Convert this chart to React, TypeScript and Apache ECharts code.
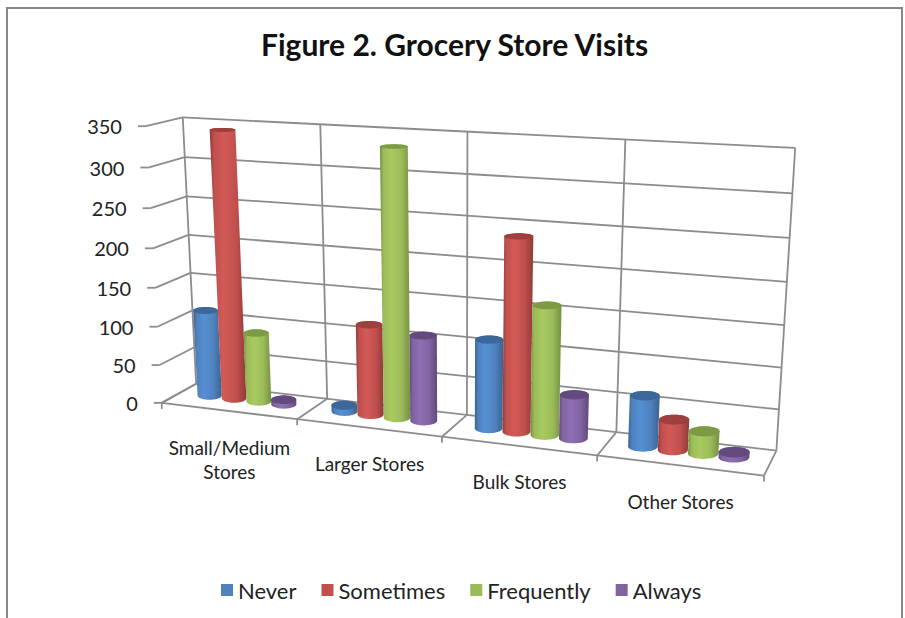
import React, { useEffect, useRef } from "react";
import * as echarts from "echarts";

const categories = ["Small/Medium\nStores", "Larger Stores", "Bulk Stores", "Other Stores"];
const yTicks = [0, 50, 100, 150, 200, 250, 300, 350];
const never = [113, 8, 111, 62];
const sometimes = [343, 115, 238, 37];
const frequently = [90, 334, 159, 27];
const always = [6, 108, 54, 6];
const seriesNames = ["Never", "Sometimes", "Frequently", "Always"];
const seriesValues = [never, sometimes, frequently, always];

const palette = [
  { base: "#4F81BD", dark: "#3A6290", light: "#5590D2", cap: "#3B6899", rim: "#4C86C9" },
  { base: "#C0504D", dark: "#8F3A38", light: "#D25A57", cap: "#9E3F3D", rim: "#CE5855" },
  { base: "#9BBB59", dark: "#749043", light: "#A8CB60", cap: "#7D9A44", rim: "#A4C85C" },
  { base: "#8064A2", dark: "#5F4A7A", light: "#8E6FB3", cap: "#64497F", rim: "#8A6CB0" },
];

// Calibration of the drawn 3D box: (x, y, z) -> page pixels. z=0 back wall, z=1 front.
const calib: number[][] = [
  [0, 1, 0, 183, 117], [1, 1, 0, 795, 147], [0, 0, 0, 196, 384], [1, 0, 0, 776, 451],
  [0, 1, 1, 146, 126], [0, 0, 1, 162, 402], [1, 0, 1, 764, 475],
  [0.25, 1, 0, 320, 125], [0.25, 0, 0, 327, 398], [0.25, 0, 1, 297, 420],
  [0.5, 1, 0, 467, 132], [0.5, 0, 0, 467, 415], [0.5, 0, 1, 442, 438],
  [0.75, 1, 0, 626, 140], [0.75, 0, 0, 617, 432], [0.75, 0, 1, 597, 455],
];

function solveCamera(): number[] {
  const n = 11;
  const A = Array.from({ length: n }, () => new Array(n + 1).fill(0));
  const add = (r: number[], b: number) => {
    for (let i = 0; i < n; i++) {
      for (let j = 0; j < n; j++) A[i][j] += r[i] * r[j];
      A[i][n] += r[i] * b;
    }
  };
  for (const [X, Y, Z, u, v] of calib) {
    add([X, Y, Z, 1, 0, 0, 0, 0, -u * X, -u * Y, -u * Z], u);
    add([0, 0, 0, 0, X, Y, Z, 1, -v * X, -v * Y, -v * Z], v);
  }
  for (let c = 0; c < n; c++) {
    let p = c;
    for (let r = c + 1; r < n; r++) if (Math.abs(A[r][c]) > Math.abs(A[p][c])) p = r;
    [A[c], A[p]] = [A[p], A[c]];
    for (let r = 0; r < n; r++) {
      if (r === c) continue;
      const f = A[r][c] / A[c][c];
      for (let k = c; k <= n; k++) A[r][k] -= f * A[c][k];
    }
  }
  return A.map((row, i) => row[n] / row[i]);
}
const P = solveCamera();
const project = (x: number, y: number, z: number): [number, number] => {
  const w = P[8] * x + P[9] * y + P[10] * z + 1;
  return [
    (P[0] * x + P[1] * y + P[2] * z + P[3]) / w,
    (P[4] * x + P[5] * y + P[6] * z + P[7]) / w,
  ];
};

const GRID = { left: 100, top: 100, width: 600, height: 400 };
const toUnit = (pt: number[]) => [
  (pt[0] - GRID.left) / GRID.width,
  (GRID.top + GRID.height - pt[1]) / GRID.height,
];

const BAR_STEP = 0.0465;
const RX = 0.0232;
const RZ = 0.22;
const Z0 = 0.45;
const LINE = "#8C8C8C";
const FONT = "Lato, 'Open Sans', sans-serif";

function hull(pts: [number, number][]) {
  const s = [...pts].sort((a, b) => a[0] - b[0] || a[1] - b[1]);
  const cross = (o: number[], a: number[], b: number[]) =>
    (a[0] - o[0]) * (b[1] - o[1]) - (a[1] - o[1]) * (b[0] - o[0]);
  const lo: [number, number][] = [];
  for (const p of s) {
    while (lo.length >= 2 && cross(lo[lo.length - 2], lo[lo.length - 1], p) <= 0) lo.pop();
    lo.push(p);
  }
  const up: [number, number][] = [];
  for (let i = s.length - 1; i >= 0; i--) {
    const p = s[i];
    while (up.length >= 2 && cross(up[up.length - 2], up[up.length - 1], p) <= 0) up.pop();
    up.push(p);
  }
  return lo.slice(0, -1).concat(up.slice(0, -1));
}

const lineEl = (a: number[], b: number[], width = 1.8) => ({
  type: "line",
  shape: { x1: a[0], y1: a[1], x2: b[0], y2: b[1] },
  style: { stroke: LINE, lineWidth: width },
});

const renderYTick = (_: any, api: any) => {
  const tick = api.value(1);
  const [, y] = toUnit(api.coord([0, tick]));
  const backL = project(0, y, 0);
  const backR = project(1, y, 0);
  const front = project(0, y, 1);
  const tickEnd = [front[0] - 8, front[1]];
  return {
    type: "group",
    children: [
      lineEl(backL, backR),
      lineEl(backL, front),
      lineEl(front, tickEnd),
      {
        type: "text",
        style: {
          text: String(tick),
          x: tickEnd[0] - 16,
          y: front[1],
          align: "right",
          verticalAlign: "middle",
          fontFamily: FONT,
          fontSize: 20,
          fill: "#222222",
        },
      },
    ],
  };
};

const renderCat = (_: any, api: any) => {
  const i = api.value(0);
  const half = api.size([1, 0])[0] / 2;
  const c = api.coord([i, 0]);
  const [xc] = toUnit(c);
  const xl = toUnit([c[0] - half, c[1]])[0];
  const xr = toUnit([c[0] + half, c[1]])[0];
  const children: any[] = [];
  const boundary = (x: number) => {
    const bt = project(x, 1, 0);
    const bb = project(x, 0, 0);
    const fb = project(x, 0, 1);
    children.push(lineEl(bt, bb), lineEl(bb, fb), lineEl(fb, [fb[0], fb[1] + 6]));
  };
  boundary(xl);
  if (i === categories.length - 1) boundary(xr);
  const fl = project(xl, 0, 1);
  const fr = project(xr, 0, 1);
  children.push(lineEl(fl, fr));
  const mid = project(xc, 0, 1);
  const two = categories[i].includes("\n");
  children.push({
    type: "text",
    style: {
      text: categories[i],
      x: (fl[0] + fr[0]) / 2,
      y: mid[1] + (two ? 49 : 36),
      align: "center",
      verticalAlign: "middle",
      fontFamily: FONT,
      fontSize: 19,
      lineHeight: 24,
      fill: "#222222",
    },
  });
  return { type: "group", children };
};

const makeRenderBar = (seriesIdx: number) => (_: any, api: any) => {
  const i = api.value(0);
  const v = api.value(1);
  const [xc, y] = toUnit(api.coord([i, v]));
  const x = xc + (seriesIdx - 1.5) * BAR_STEP;
  const circle = (h: number): [number, number][] => {
    const c0 = project(x, h, Z0);
    const hw = (project(x + RX, h, Z0)[0] - project(x - RX, h, Z0)[0]) / 2;
    const hh = (project(x, h, Z0 + RZ)[1] - project(x, h, Z0 - RZ)[1]) / 2;
    const pts: [number, number][] = [];
    for (let k = 0; k < 36; k++) {
      const t = (k / 36) * Math.PI * 2;
      pts.push([c0[0] + hw * Math.cos(t), c0[1] + hh * Math.sin(t)]);
    }
    return pts;
  };
  const top = circle(y);
  const base = circle(0);
  const c = palette[seriesIdx];
  return {
    type: "group",
    children: [
      {
        type: "polygon",
        shape: { points: hull(top.concat(base)) },
        style: {
          fill: new echarts.graphic.LinearGradient(0, 0, 1, 0, [
            { offset: 0, color: c.dark },
            { offset: 0.12, color: c.base },
            { offset: 0.38, color: c.light },
            { offset: 0.72, color: c.base },
            { offset: 1, color: c.dark },
          ]),
        },
      },
      { type: "polygon", shape: { points: top }, style: { fill: c.cap } },
    ],
  };
};

export default function App() {
  const ref = useRef<HTMLDivElement>(null);
  useEffect(() => {
    const chart = echarts.init(ref.current!, undefined, { renderer: "svg" });
    chart.setOption({
      animation: false,
      backgroundColor: "#FFFFFF",
      title: {
        text: "Figure 2. Grocery Store Visits",
        left: 256,
        top: 24,
        textStyle: { fontFamily: FONT, fontSize: 30, fontWeight: "bold", color: "#111111" },
      },
      legend: {
        data: seriesNames,
        left: 216,
        top: 574,
        itemWidth: 12,
        itemHeight: 12,
        itemGap: 25,
        icon: "rect",
        textStyle: { fontFamily: FONT, fontSize: 22, color: "#222222" },
      },
      grid: { ...GRID, show: false },
      xAxis: {
        type: "category",
        data: categories,
        axisLabel: { show: false },
        axisLine: { show: false },
        axisTick: { show: false },
      },
      yAxis: {
        type: "value",
        min: 0,
        max: 350,
        interval: 50,
        axisLabel: { show: false },
        axisLine: { show: false },
        axisTick: { show: false },
        splitLine: { show: false },
      },
      graphic: [
        {
          type: "rect",
          shape: { x: 7, y: 8, width: 895, height: 700 },
          style: { fill: "none", stroke: "#888888", lineWidth: 2 },
          silent: true,
        },
      ],
      series: [
        {
          type: "custom",
          name: "yGrid",
          renderItem: renderYTick,
          data: yTicks.map((t) => [0, t]),
          encode: { x: 0, y: 1 },
          silent: true,
        },
        {
          type: "custom",
          name: "xGrid",
          renderItem: renderCat,
          data: categories.map((_, i) => [i, 0]),
          encode: { x: 0, y: 1 },
          silent: true,
        },
        ...seriesNames.map((name, s) => ({
          type: "custom",
          name,
          renderItem: makeRenderBar(s),
          itemStyle: { color: palette[s].base },
          data: seriesValues[s].map((v, i) => [i, v]),
          encode: { x: 0, y: 1 },
          silent: true,
        })),
      ],
    });
    return () => chart.dispose();
  }, []);
  return (
    <div
      ref={ref}
      style={{ position: "absolute", left: 0, top: 0, width: 905, height: 618 }}
    />
  );
}
